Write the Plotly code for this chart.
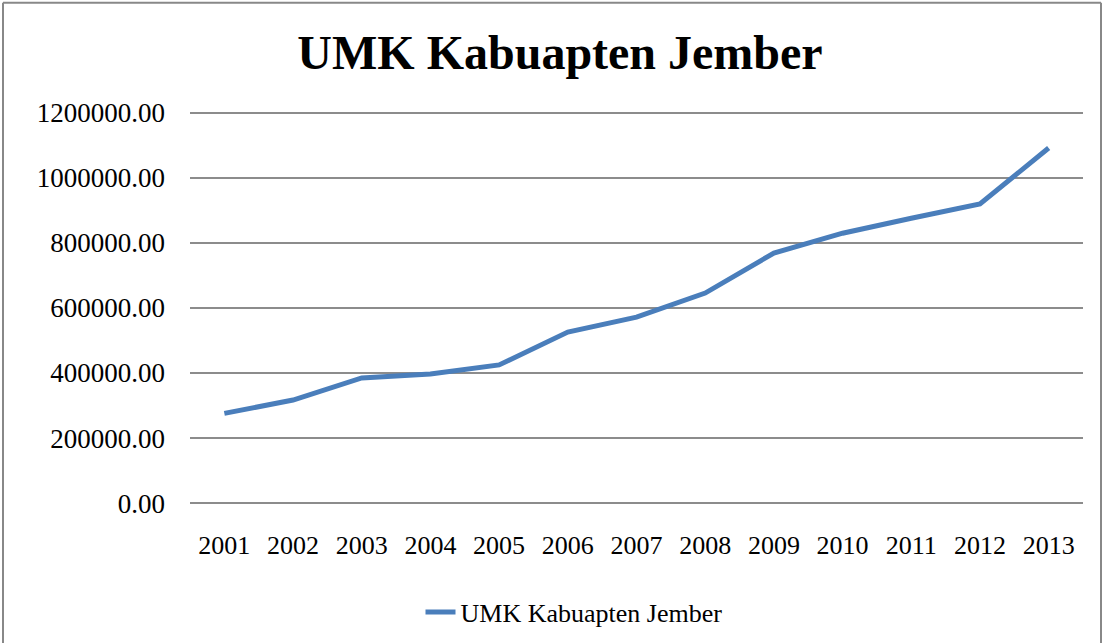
import plotly.graph_objects as go

years = ["2001", "2002", "2003", "2004", "2005", "2006", "2007",
         "2008", "2009", "2010", "2011", "2012", "2013"]
umk = [276000, 317000, 385000, 397000, 425000, 526000, 572000,
       646000, 769000, 830000, 876000, 920000, 1091950]
series_name = "UMK Kabuapten Jember"
y_ticks = [0, 200000, 400000, 600000, 800000, 1000000, 1200000]

FONT = "Liberation Serif, Times New Roman, serif"

fig = go.Figure()
fig.add_trace(go.Scatter(
    x=years, y=umk, mode="lines", name=series_name,
    line=dict(color="#4a7ebb", width=5),
))

W, H = 1104, 643
PAD = 12000  # padding so the 0 and 1200000 gridlines are drawn
per_px = 1200000 / 390.0
top_px = 113 - PAD / per_px
bot_px = 503 + PAD / per_px
L, R = 190, 21
T, B = top_px, H - bot_px
pw, ph = W - L - R, H - T - B

def px_x(x):
    return (x - L) / pw

def px_y(y):
    return (H - B - y) / ph

fig.update_layout(
    width=W, height=H,
    margin=dict(l=L, r=R, t=T, b=B, autoexpand=False),
    paper_bgcolor="white", plot_bgcolor="white",
    font=dict(family=FONT, color="black", size=26),
    title=dict(text="<b>UMK Kabuapten Jember</b>", x=560 / W, xanchor="center",
               y=1 - 52 / H, yanchor="middle",
               font=dict(family=FONT, size=48, color="black")),
    showlegend=True,
    legend=dict(orientation="h", xref="container", yref="container",
                x=574 / W, xanchor="center",
                y=1 - 612 / H, yanchor="middle",
                font=dict(family=FONT, size=26, color="black"),
                bgcolor="rgba(0,0,0,0)"),
    xaxis=dict(type="category", range=[-0.5, 12.5], showgrid=False,
               showline=False, zeroline=False, ticks="", automargin=False,
               ticklabelstandoff=20, tickfont=dict(size=26)),
    yaxis=dict(range=[-PAD, 1200000 + PAD], tickvals=y_ticks, tickformat=".2f",
               showgrid=True, gridcolor="#8c8c8c", gridwidth=1.5,
               zeroline=False, showline=False, ticks="", automargin=False,
               ticklabelstandoff=24, tickfont=dict(size=27)),
    shapes=[
        dict(type="line", xref="paper", yref="paper",
             x0=px_x(3), x1=px_x(1101), y0=px_y(3), y1=px_y(3),
             line=dict(color="#888888", width=2)),
        dict(type="line", xref="paper", yref="paper",
             x0=px_x(3), x1=px_x(3), y0=px_y(3), y1=px_y(660),
             line=dict(color="#888888", width=2)),
        dict(type="line", xref="paper", yref="paper",
             x0=px_x(1101), x1=px_x(1101), y0=px_y(3), y1=px_y(660),
             line=dict(color="#888888", width=2)),
    ],
)

fig.write_html("out.html", config={"displayModeBar": False},
               post_script="document.body.style.margin='0';document.body.style.overflow='hidden';")
